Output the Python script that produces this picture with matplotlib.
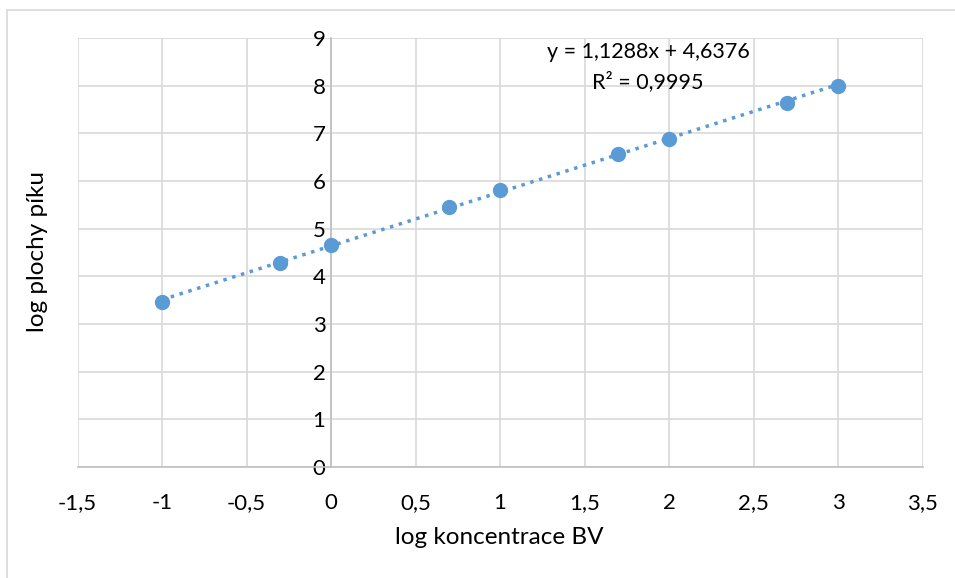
import numpy as np
import matplotlib.pyplot as plt
from matplotlib.patches import Rectangle

plt.rcParams['font.family'] = ['Lato', 'DejaVu Sans']

# log koncentrace vs log plochy piku
log_konc = [-1, -0.301, 0, 0.699, 1, 1.699, 2, 2.699, 3]
log_plocha = [3.46, 4.28, 4.66, 5.46, 5.81, 6.57, 6.89, 7.64, 8.00]

# linearni regrese (koeficienty z rovnice)
slope = 1.1288
intercept = 4.6376
r2 = 0.9995

x_ticks = np.arange(-1.5, 3.51, 0.5)
y_ticks = np.arange(0, 10, 1)

def cz(v):
    return ('%g' % v).replace('.', ',')

blue = '#5B9BD5'
grid_c = '#D9D9D9'

fig = plt.figure(figsize=(9.55, 5.78), dpi=100)
fig.patches.append(Rectangle((7/955, -0.05), 1.1, 1 - 10/578 + 0.05,
                             transform=fig.transFigure, fill=False,
                             edgecolor='#D9D9D9', lw=1.2))
ax = fig.add_axes([77.5/955, 1 - 467/578, 845/955, 429/578])

ax.set_xlim(-1.5, 3.5)
ax.set_ylim(0, 9)
ax.set_xticks(x_ticks)
ax.set_yticks(y_ticks)
ax.set_xticklabels([cz(v) for v in x_ticks])
ax.set_yticklabels([cz(v) for v in y_ticks])
ax.grid(True, color=grid_c, lw=1.2)
ax.set_axisbelow(True)

for s in ['top', 'right']:
    ax.spines[s].set_visible(False)
ax.spines['left'].set_position(('data', 0))
ax.spines['left'].set_color('#BFBFBF')
ax.spines['left'].set_linewidth(1.2)
ax.spines['bottom'].set_color('#BFBFBF')
ax.spines['bottom'].set_linewidth(1.2)
ax.tick_params(length=0, labelsize=16, colors='black')
ax.tick_params(axis='x', pad=19)
ax.tick_params(axis='y', pad=4)

xs = np.array([log_konc[0], log_konc[-1]])
ax.plot(xs, slope * xs + intercept, ':', color=blue, lw=2.5, zorder=2)
ax.plot(log_konc, log_plocha, 'o', color=blue, ms=10, zorder=3)

fig.text(648/955, 1 - 52/578, 'y = %sx + %s' % (cz(slope), cz(intercept)),
         ha='center', va='center', fontsize=15.5)
fig.text(648/955, 1 - 82/578, 'R² = %s' % cz(r2),
         ha='center', va='center', fontsize=15.5)

fig.text(499/955, 1 - 538/578, 'log koncentrace BV', ha='center', va='center', fontsize=17.5)
fig.text(38/955, 1 - 252/578, 'log plochy píku', ha='center', va='center',
         rotation=90, fontsize=17.5)

fig.savefig('out.png', dpi=100)
